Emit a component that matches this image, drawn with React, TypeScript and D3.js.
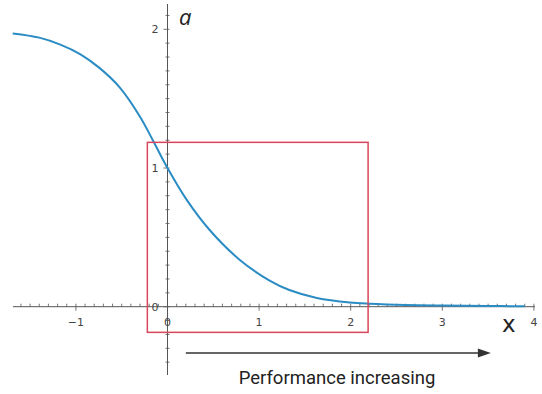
import React from 'react';
import * as d3 from 'd3';

// curve points (x, a)
const curveX = [-1.69, -1.4, -1.17, -0.95, -0.74, -0.52, -0.3, -0.16, 0, 0.21, 0.46, 0.79, 1.11, 1.33, 1.63, 1.99, 2.21, 2.6, 3.0, 3.5, 3.9];
const curveA = [1.97, 1.94, 1.89, 1.82, 1.72, 1.58, 1.37, 1.2, 1.0, 0.77, 0.553, 0.337, 0.19, 0.12, 0.063, 0.03, 0.021, 0.012, 0.008, 0.005, 0.003];

const xLabels = [-1, 0, 1, 2, 3, 4];
const yLabels = [0, 1, 2];

// highlighted box and arrow, in data units
const boxX = [-0.22, 2.19];
const boxA = [-0.185, 1.185];
const arrowX = [0.2, 3.53];
const arrowA = -0.334;
const caption = 'Performance increasing';

const W = 542;
const H = 394;

export default function App() {
  const x = d3.scaleLinear().domain([0, 1]).range([167.5, 259.1]);
  const y = d3.scaleLinear().domain([0, 1]).range([306.7, 168]);

  const xMin = x.invert(13);
  const xMax = x.invert(535);
  const yMin = y.invert(375);
  const yMax = y.invert(4);

  const xMinor = d3.range(Math.ceil(xMin * 10), Math.floor(xMax * 10) + 1).map(i => i / 10);
  const yMinor = d3.range(Math.ceil(yMin * 10), Math.floor(yMax * 10) + 1).map(i => i / 10);

  const line = d3
    .line<number>()
    .x((_, i) => x(curveX[i]))
    .y(d => y(d))
    .curve(d3.curveCatmullRom.alpha(0.5));

  const axisColor = '#555';
  const tickFont = 'DejaVu Sans, sans-serif';
  const ax0 = x(arrowX[0]);
  const ax1 = x(arrowX[1]);
  const ay = y(arrowA);

  return (
    <svg width={W} height={H} style={{ position: 'absolute', left: 0, top: 0, background: '#fff' }}>
      {/* axes */}
      <line x1={x(xMin)} x2={x(xMax)} y1={y(0)} y2={y(0)} stroke={axisColor} strokeWidth={1} />
      <line x1={x(0)} x2={x(0)} y1={y(yMin)} y2={y(yMax)} stroke={axisColor} strokeWidth={1} />

      {xMinor.map(v => {
        const major = Math.abs(v - Math.round(v)) < 1e-6;
        return (
          <line key={'xt' + v} x1={x(v)} x2={x(v)} y1={y(0) - 3} y2={y(0) + (major ? 4 : 0)} stroke={axisColor} strokeWidth={0.8} />
        );
      })}
      {yMinor.map(v => {
        const major = Math.abs(v - Math.round(v)) < 1e-6;
        return (
          <line key={'yt' + v} x1={x(0) - (major ? 4 : 2)} x2={x(0) + 2} y1={y(v)} y2={y(v)} stroke={axisColor} strokeWidth={0.8} />
        );
      })}

      {xLabels.map(v => (
        <text key={'xl' + v} x={x(v)} y={y(0) + 19} textAnchor="middle" fontFamily={tickFont} fontSize={11} fill="#444">
          {v < 0 ? '\u2212' + Math.abs(v) : v}
        </text>
      ))}
      {yLabels.map(v => (
        <text key={'yl' + v} x={x(0) - 9} y={y(v) + 4} textAnchor="end" fontFamily={tickFont} fontSize={11} fill="#444">
          {v}
        </text>
      ))}

      <text x={179} y={25} fontFamily="Open Sans, sans-serif" fontStyle="italic" fontSize={22} fill="#222">a</text>
      <text x={502} y={332} fontFamily="DejaVu Sans, sans-serif" fontSize={23} fill="#222">x</text>

      {/* curve */}
      <path d={line(curveA) || ''} fill="none" stroke="#2b8cc4" strokeWidth={2} />

      {/* highlight box */}
      <rect
        x={x(boxX[0])}
        y={y(boxA[1])}
        width={x(boxX[1]) - x(boxX[0])}
        height={y(boxA[0]) - y(boxA[1])}
        fill="none"
        stroke="#d9455a"
        strokeWidth={1.5}
      />

      {/* arrow */}
      <line x1={ax0} x2={ax1 - 10} y1={ay} y2={ay} stroke="#333" strokeWidth={1.5} />
      <path d={`M${ax1},${ay} L${ax1 - 13},${ay - 4.5} L${ax1 - 13},${ay + 4.5} Z`} fill="#333" />
      <text x={337} y={384} textAnchor="middle" fontFamily="Roboto, sans-serif" fontSize={18.5} fill="#222">
        {caption}
      </text>
    </svg>
  );
}
